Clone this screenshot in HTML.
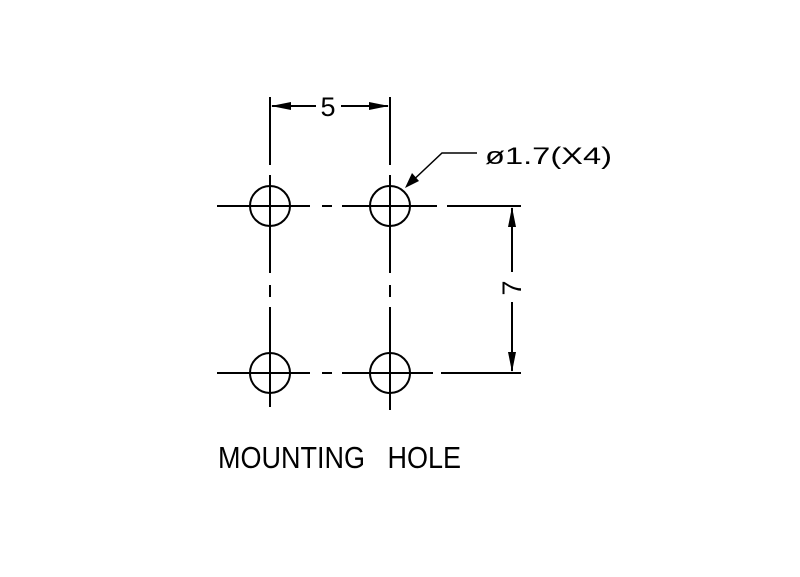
<!DOCTYPE html>
<html><head><style>html,body{margin:0;padding:0;background:#fff}svg{display:block}</style></head>
<body>
<svg width="800" height="577" viewBox="0 0 800 577" xmlns="http://www.w3.org/2000/svg">
<g stroke="#000" stroke-width="2" fill="none">
<line x1="270" y1="97" x2="270" y2="165"/>
<line x1="270" y1="175" x2="270" y2="273"/>
<line x1="270" y1="285" x2="270" y2="297"/>
<line x1="270" y1="307" x2="270" y2="407"/>
<line x1="390" y1="97" x2="390" y2="165"/>
<line x1="390" y1="175" x2="390" y2="273"/>
<line x1="390" y1="285" x2="390" y2="297"/>
<line x1="390" y1="307" x2="390" y2="410"/>
<line x1="217" y1="206" x2="310" y2="206"/>
<line x1="322" y1="206" x2="332" y2="206"/>
<line x1="342" y1="206" x2="437" y2="206"/>
<line x1="447" y1="206" x2="521" y2="206"/>
<line x1="217" y1="373" x2="310" y2="373"/>
<line x1="322" y1="373" x2="332" y2="373"/>
<line x1="342" y1="373" x2="433" y2="373"/>
<line x1="441" y1="373" x2="521" y2="373"/>
<circle cx="270" cy="206" r="20"/>
<circle cx="390" cy="206" r="20"/>
<circle cx="270" cy="373" r="20"/>
<circle cx="390" cy="373" r="20"/>
<line x1="272" y1="106" x2="316" y2="106"/>
<line x1="341" y1="106" x2="388" y2="106"/>
<line x1="512" y1="208" x2="512" y2="272"/>
<line x1="512" y1="302" x2="512" y2="371"/>
<polyline points="407,186 442,153 477,153" stroke-width="1.5"/>
</g>
<g fill="#000">
<polygon points="271,106 291,102 291,110"/>
<polygon points="389,106 369,102 369,110"/>
<polygon points="512,207 508,227 516,227"/>
<polygon points="512,372 508,352 516,352"/>
<polygon points="405,188 412,173 419,181"/>
</g>
<g font-family="Liberation Sans, sans-serif" fill="#000">
<text x="328" y="116" font-size="27" text-anchor="middle">5</text>
<text x="0" y="0" font-size="27" text-anchor="middle" transform="translate(521,288) rotate(-90)">7</text>
<text x="485" y="164" font-size="24" textLength="127" lengthAdjust="spacingAndGlyphs">ø1.7(X4)</text>
<text x="218" y="468" font-size="31" textLength="243" lengthAdjust="spacingAndGlyphs" xml:space="preserve">MOUNTING   HOLE</text>
</g>
</svg>
</body></html>
